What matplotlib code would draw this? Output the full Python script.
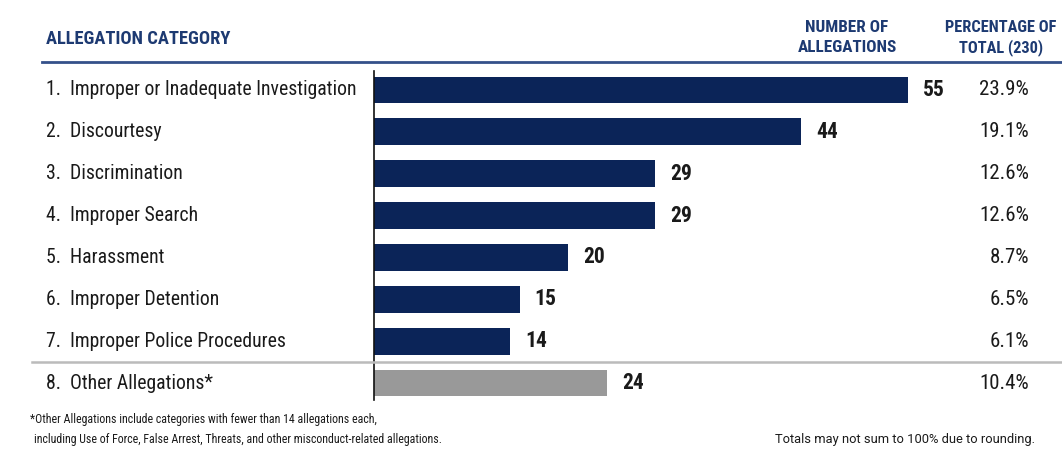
import matplotlib
matplotlib.use("Agg")
import matplotlib.pyplot as plt
from matplotlib import font_manager
from matplotlib.transforms import blended_transform_factory

categories = [
    "1.  Improper or Inadequate Investigation",
    "2.  Discourtesy",
    "3.  Discrimination",
    "4.  Improper Search",
    "5.  Harassment",
    "6.  Improper Detention",
    "7.  Improper Police Procedures",
    "8.  Other Allegations*",
]
counts = [55, 44, 29, 29, 20, 15, 14, 24]
percent_labels = ["23.9%", "19.1%", "12.6%", "12.6%", "8.7%", "6.5%", "6.1%", "10.4%"]
is_other = [False, False, False, False, False, False, False, True]

names = {f.name for f in font_manager.fontManager.ttflist}
FONT = "DejaVu Sans"
for cand in ["Roboto Condensed", "Liberation Sans Narrow", "Roboto", "Liberation Sans"]:
    if cand in names:
        FONT = cand
        break
FONT2 = "Roboto" if "Roboto" in names else "DejaVu Sans"
plt.rcParams["font.family"] = [FONT, "DejaVu Sans"]

NAVY = "#0b2458"
HEAD = "#1d3a72"
GRAY_BAR = "#999999"
TXT = "#1a1a1a"

W, H = 1062, 454
fig = plt.figure(figsize=(W / 100, H / 100), dpi=100)
fig.patch.set_facecolor("white")

def fx(px):
    return px / W

def fy(py):
    return 1 - py / H

ax_left, ax_top, ax_bottom = 374, 69, 404
ax = fig.add_axes([fx(ax_left), fy(ax_bottom), 1 - fx(ax_left), (ax_bottom - ax_top) / H])
scale = 9.7  # px per unit
ax.set_xlim(0, (W - ax_left) / scale)
ax.set_ylim(len(counts) - 0.5, -0.5)

ypos = list(range(len(counts)))
colors = [GRAY_BAR if o else NAVY for o in is_other]
ax.barh(ypos, counts, height=0.64, color=colors, edgecolor="none")

for s in ["top", "right", "bottom"]:
    ax.spines[s].set_visible(False)
ax.spines["left"].set_color("#111111")
ax.spines["left"].set_linewidth(1.2)
ax.spines["left"].set_bounds(-0.45, 7.4)
ax.set_xticks([])
ax.set_yticks([])

tr_label = blended_transform_factory(fig.transFigure, ax.transData)
for y, cat, c, p in zip(ypos, categories, counts, percent_labels):
    ax.text(fx(46), y, cat, transform=tr_label, ha="left", va="center",
            fontsize=14.2, color=TXT)
    ax.annotate(str(c), xy=(c, y), xytext=(11, 0), textcoords="offset points",
                ha="left", va="center", fontsize=15.5, fontweight="bold", color=TXT)
    ax.text(fx(1029), y, p, transform=tr_label, ha="right", va="center",
            fontsize=15, color=TXT)

# header
fig.text(fx(46), fy(39), "ALLEGATION CATEGORY", ha="left", va="center",
         fontsize=13.3, fontweight="bold", color=HEAD)
fig.text(fx(847), fy(27), "NUMBER OF", ha="center", va="center",
         fontsize=12.3, fontweight="bold", color=HEAD)
fig.text(fx(847), fy(48), "ALLEGATIONS", ha="center", va="center",
         fontsize=12.3, fontweight="bold", color=HEAD)
fig.text(fx(1001), fy(27), "PERCENTAGE OF", ha="center", va="center",
         fontsize=11.8, fontweight="bold", color=HEAD)
fig.text(fx(1001), fy(48), "TOTAL (230)", ha="center", va="center",
         fontsize=11.8, fontweight="bold", color=HEAD)

# rules
fig.add_artist(plt.Line2D([fx(42), 1], [fy(62), fy(62)], color="#34508a", linewidth=2))
fig.add_artist(plt.Line2D([fx(32), 1], [fy(362), fy(362)], color="#bbbbbb", linewidth=1.8))

# footnotes
fig.text(fx(30), fy(420), "*Other Allegations include categories with fewer than 14 allegations each,",
         ha="left", va="center", fontsize=8.6, color=TXT)
fig.text(fx(34), fy(439), "including Use of Force, False Arrest, Threats, and other misconduct-related allegations.",
         ha="left", va="center", fontsize=8.6, color=TXT)
fig.text(fx(1035), fy(439), "Totals may not sum to 100% due to rounding.",
         ha="right", va="center", fontsize=9.3, color=TXT, family=[FONT2, "DejaVu Sans"])

fig.savefig("out.png", dpi=100, facecolor="white")
